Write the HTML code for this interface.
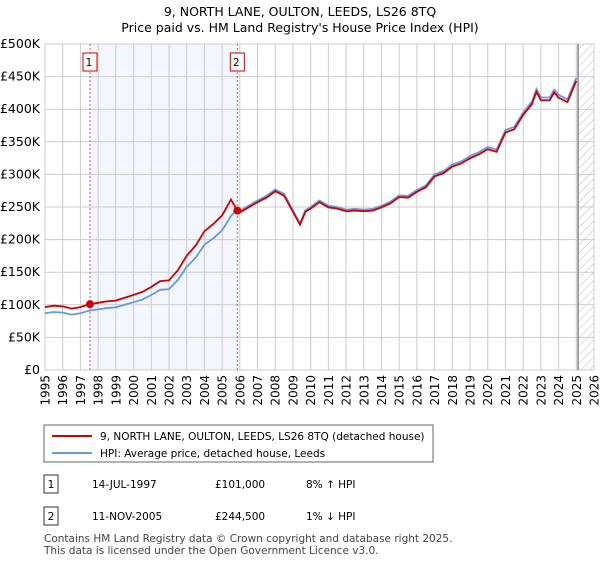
<!DOCTYPE html>
<html><head><meta charset="utf-8">
<style>
body{margin:0;width:600px;height:560px;background:#fff;font-family:"Liberation Sans","DejaVu Sans",sans-serif;color:#222;overflow:hidden}
svg text{font-family:"DejaVu Sans","Liberation Sans",sans-serif}
</style></head><body>
<svg id="chart" width="600" height="560" xmlns="http://www.w3.org/2000/svg">
<defs><pattern id="hatch" patternUnits="userSpaceOnUse" width="6" height="6" patternTransform="rotate(45)"><line x1="0" y1="0" x2="0" y2="6" stroke="#bbb" stroke-width="1"/></pattern></defs>
<text x="300" y="16" font-size="12.5" text-anchor="middle">9, NORTH LANE, OULTON, LEEDS, LS26 8TQ</text>
<text x="300" y="32" font-size="12.5" text-anchor="middle">Price paid vs. HM Land Registry's House Price Index (HPI)</text>
<g id="plot"></g>
<g>
<rect x="44" y="425" width="389" height="37" fill="#fff" stroke="#666"/>
<line x1="52" y1="436" x2="92" y2="436" stroke="#cc0000" stroke-width="2"/>
<text x="100" y="440" font-size="10.5">9, NORTH LANE, OULTON, LEEDS, LS26 8TQ (detached house)</text>
<line x1="52" y1="453" x2="92" y2="453" stroke="#6699dd" stroke-width="2"/>
<text x="100" y="457" font-size="10.5">HPI: Average price, detached house, Leeds</text>
</g>
<g font-size="10.5">
<rect x="44" y="475" width="14" height="18" fill="#fff" stroke="#333"/><text x="51" y="488" text-anchor="middle">1</text>
<text x="92" y="488">14-JUL-1997</text><text x="215" y="488">£101,000</text><text x="306" y="488">8% ↑ HPI</text>
<rect x="44" y="507" width="14" height="18" fill="#fff" stroke="#333"/><text x="51" y="520" text-anchor="middle">2</text>
<text x="92" y="520">11-NOV-2005</text><text x="215" y="520">£244,500</text><text x="306" y="520">1% ↓ HPI</text>
</g>
<text x="44" y="542" font-size="10.5" fill="#444">Contains HM Land Registry data © Crown copyright and database right 2025.</text>
<text x="44" y="554" font-size="10.5" fill="#444">This data is licensed under the Open Government Licence v3.0.</text>
</svg>
<script>
const hpiYears=[1995,1995.5,1996,1996.5,1997,1997.5,1998,1998.5,1999,1999.5,2000,2000.5,2001,2001.5,2002,2002.5,2003,2003.5,2004,2004.5,2005,2005.5,2005.86,2006,2006.5,2007,2007.5,2008,2008.5,2009,2009.4,2009.7,2010,2010.5,2011,2011.5,2012,2012.5,2013,2013.5,2014,2014.5,2015,2015.5,2016,2016.5,2017,2017.5,2018,2018.5,2019,2019.5,2020,2020.5,2021,2021.5,2022,2022.5,2022.75,2023,2023.5,2023.75,2024,2024.5,2025];
const hpiValues=[87,89,88,85,87,91,93,95,96,100,104,108,115,123,124,138,158,172,192,202,214,236,247,244,252,260,267,277,270,245,225,245,250,260,252,250,246,247,246,247,252,258,268,267,276,283,300,305,315,320,328,334,342,338,368,373,395,412,431,418,418,430,422,415,448];
const saleYears=[1997.54,2005.86];
const salePrices=[101,244.5];
const yTicks=[0,50,100,150,200,250,300,350,400,450,500];
const yTickLabels=["£0","£50K","£100K","£150K","£200K","£250K","£300K","£350K","£400K","£450K","£500K"];
const xTicks=[1995,1996,1997,1998,1999,2000,2001,2002,2003,2004,2005,2006,2007,2008,2009,2010,2011,2012,2013,2014,2015,2016,2017,2018,2019,2020,2021,2022,2023,2024,2025,2026];
const dataEnd=2025.1;
const NS="http://www.w3.org/2000/svg";
const L=45,R=594,T=44,B=370;
const x=v=>L+(v-1995)/(2026-1995)*(R-L);
const y=v=>B-v/500*(B-T);
const g=document.getElementById('plot');
function mk(t,a){const e=document.createElementNS(NS,t);for(const k in a)e.setAttribute(k,a[k]);g.appendChild(e);return e;}
const interp=t=>{for(let i=0;i<hpiYears.length-1;i++){if(t<=hpiYears[i+1]){const f=(t-hpiYears[i])/(hpiYears[i+1]-hpiYears[i]);return hpiValues[i]+f*(hpiValues[i+1]-hpiValues[i]);}}return hpiValues[hpiValues.length-1];};
let e=mk('rect',{x:x(saleYears[0]),y:T,width:x(saleYears[1])-x(saleYears[0]),height:B-T,fill:'#f3f6fd'});

e=mk('rect',{x:x(dataEnd),y:T,width:R-x(dataEnd),height:B-T,fill:'url(#hatch)'});

yTicks.forEach((v,i)=>{let l=mk('line',{x1:L,x2:R,y1:y(v),y2:y(v),stroke:'#ccc'});

let t=mk('text',{x:40,y:y(v)+4,'font-size':12.5,'text-anchor':'end'});t.textContent=yTickLabels[i];
});
xTicks.forEach(v=>{let l=mk('line',{x1:x(v),x2:x(v),y1:T,y2:B,stroke:'#ccc'});

let t=mk('text',{x:0,y:0,'font-size':12,'text-anchor':'end',transform:`translate(${x(v)+4.5},375) rotate(-90)`});t.textContent=v;
});
e=mk('line',{x1:x(dataEnd),x2:x(dataEnd),y1:T,y2:B,stroke:'#888','stroke-width':1.5});

saleYears.forEach((s,i)=>{let l=mk('line',{x1:x(s),x2:x(s),y1:T,y2:B,stroke:'#e05555','stroke-dasharray':'2,2'});

let r=mk('rect',{x:x(s)-7,y:53,width:14,height:18,fill:'#fff',stroke:'#cc0000'});

let t=mk('text',{x:x(s)-1,y:66,'font-size':10.5,'text-anchor':'middle'});t.textContent=i+1;
});
const hp=hpiYears.map((t,i)=>x(t)+','+y(hpiValues[i])).join(' ');
e=mk('polyline',{points:hp,fill:'none',stroke:'#6699dd','stroke-width':1.8});

const r1=hpiYears.map((t,i)=>t<saleYears[1]?x(t)+','+y(hpiValues[i]*salePrices[0]/interp(saleYears[0])):null).filter(Boolean);
r1.push(x(saleYears[1])+','+y(salePrices[1]));
const r2=hpiYears.map((t,i)=>t>saleYears[1]?x(t)+','+y(hpiValues[i]*salePrices[1]/interp(saleYears[1])):null).filter(Boolean);
e=mk('polyline',{points:r1.concat(r2).join(' '),fill:'none',stroke:'#cc0000','stroke-width':1.8});

saleYears.forEach((s,i)=>{let c=mk('circle',{cx:x(s),cy:y(salePrices[i]),r:4,fill:'#cc0000'});
});
</script>
</body></html>
